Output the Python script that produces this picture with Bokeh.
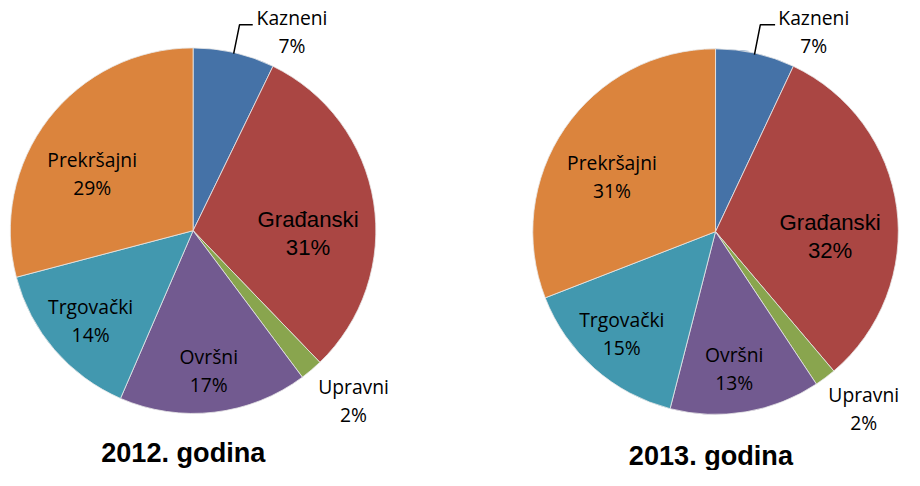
import math
from bokeh.plotting import figure
from bokeh.models import Range1d, ColumnDataSource
from bokeh.core.properties import value
from bokeh.embed import file_html
from bokeh.resources import INLINE

# ---- data ----
categories = ["Kazneni", "Građanski", "Upravni", "Ovršni", "Trgovački", "Prekršajni"]
colors = ["#4572A7", "#AA4643", "#89A54E", "#725A90", "#4298AF", "#DB843D"]
values_2012 = [7.2, 30.6, 2.0, 16.7, 14.4, 29.1]
values_2013 = [7.0, 31.8, 1.9, 13.3, 15.1, 30.9]
labels_2012 = ["7%", "31%", "2%", "17%", "14%", "29%"]
labels_2013 = ["7%", "32%", "2%", "13%", "15%", "31%"]
titles = ["2012. godina", "2013. godina"]

# figure fits inside the 920x486 window minus 8px margins;
# layout coordinates below are in a 920x486 reference space
W, H = 904, 470
RW, RH = 920, 486
S = H / RH  # approx scale for fonts

def X(px):
    return px
def Y(py):
    return RH - py

p = figure(width=W, height=H, output_backend="svg", toolbar_location=None,
           x_range=Range1d(0, RW), y_range=Range1d(0, RH), min_border=0)
p.axis.visible = False
p.grid.visible = False
p.outline_line_color = None
p.background_fill_color = "white"
p.border_fill_color = "white"

R = 186
pies = [
    dict(cx=196, cy=238, vals=values_2012, labs=labels_2012,
         pos=[(296.7, 18), (313, 226), (359.3, 399), (212, 368), (91.7, 316), (93.3, 164)],
         leader=[(237.3, 55), (243.3, 25), (256.7, 25)],
         title=titles[0], tpos=(186, 467)),
    dict(cx=727.7, cy=239, vals=values_2013, labs=labels_2013,
         pos=[(827.7, 17.3), (844.3, 229.3), (878.5, 407.3), (746.7, 366), (632.3, 330), (622.3, 167.7)],
         leader=[(767.3, 56), (773.3, 25), (788.3, 25)],
         title=titles[1], tpos=(723, 470)),
]

def fs(px):
    return "%.1fpx" % (px * S)

for pie in pies:
    vals = pie["vals"]
    total = sum(vals)
    starts, ends = [], []
    cum = 0.0
    for v in vals:
        starts.append(math.pi / 2 - 2 * math.pi * cum / total)
        cum += v
        ends.append(math.pi / 2 - 2 * math.pi * cum / total)
    src = ColumnDataSource(dict(start=starts, end=ends, color=colors,
                                x=[X(pie["cx"])] * 6, y=[Y(pie["cy"])] * 6))
    p.wedge(x="x", y="y", radius=R, start_angle="start", end_angle="end",
            direction="clock", fill_color="color", line_color="#e8e8e8",
            line_width=0.8, source=src)

    # leader line for Kazneni
    lx = [X(a) for a, b in pie["leader"]]
    ly = [Y(b) for a, b in pie["leader"]]
    p.line(lx, ly, line_color="black", line_width=1.5)

    # labels
    for i, cat in enumerate(categories):
        px, py = pie["pos"][i]
        if cat == "Građanski":
            font, size = "Liberation Sans", fs(23)
        else:
            font, size = "Open Sans", fs(20)
        p.text(x=[X(px)], y=[Y(py)], text=[cat], text_font=value(font),
               text_font_size=size, text_align="center", text_baseline="middle",
               text_color="black")
        p.text(x=[X(px)], y=[Y(py + 29)], text=[pie["labs"][i]], text_font=value(font),
               text_font_size=size, text_align="center", text_baseline="middle",
               text_color="black")

    tx, ty = pie["tpos"]
    p.text(x=[X(tx)], y=[Y(ty)], text=[pie["title"]], text_font=value("Liberation Sans"),
           text_font_size=fs(28), text_font_style="bold", text_align="center",
           text_baseline="alphabetic", text_color="black")

open("out.html", "w").write(file_html(p, INLINE))
